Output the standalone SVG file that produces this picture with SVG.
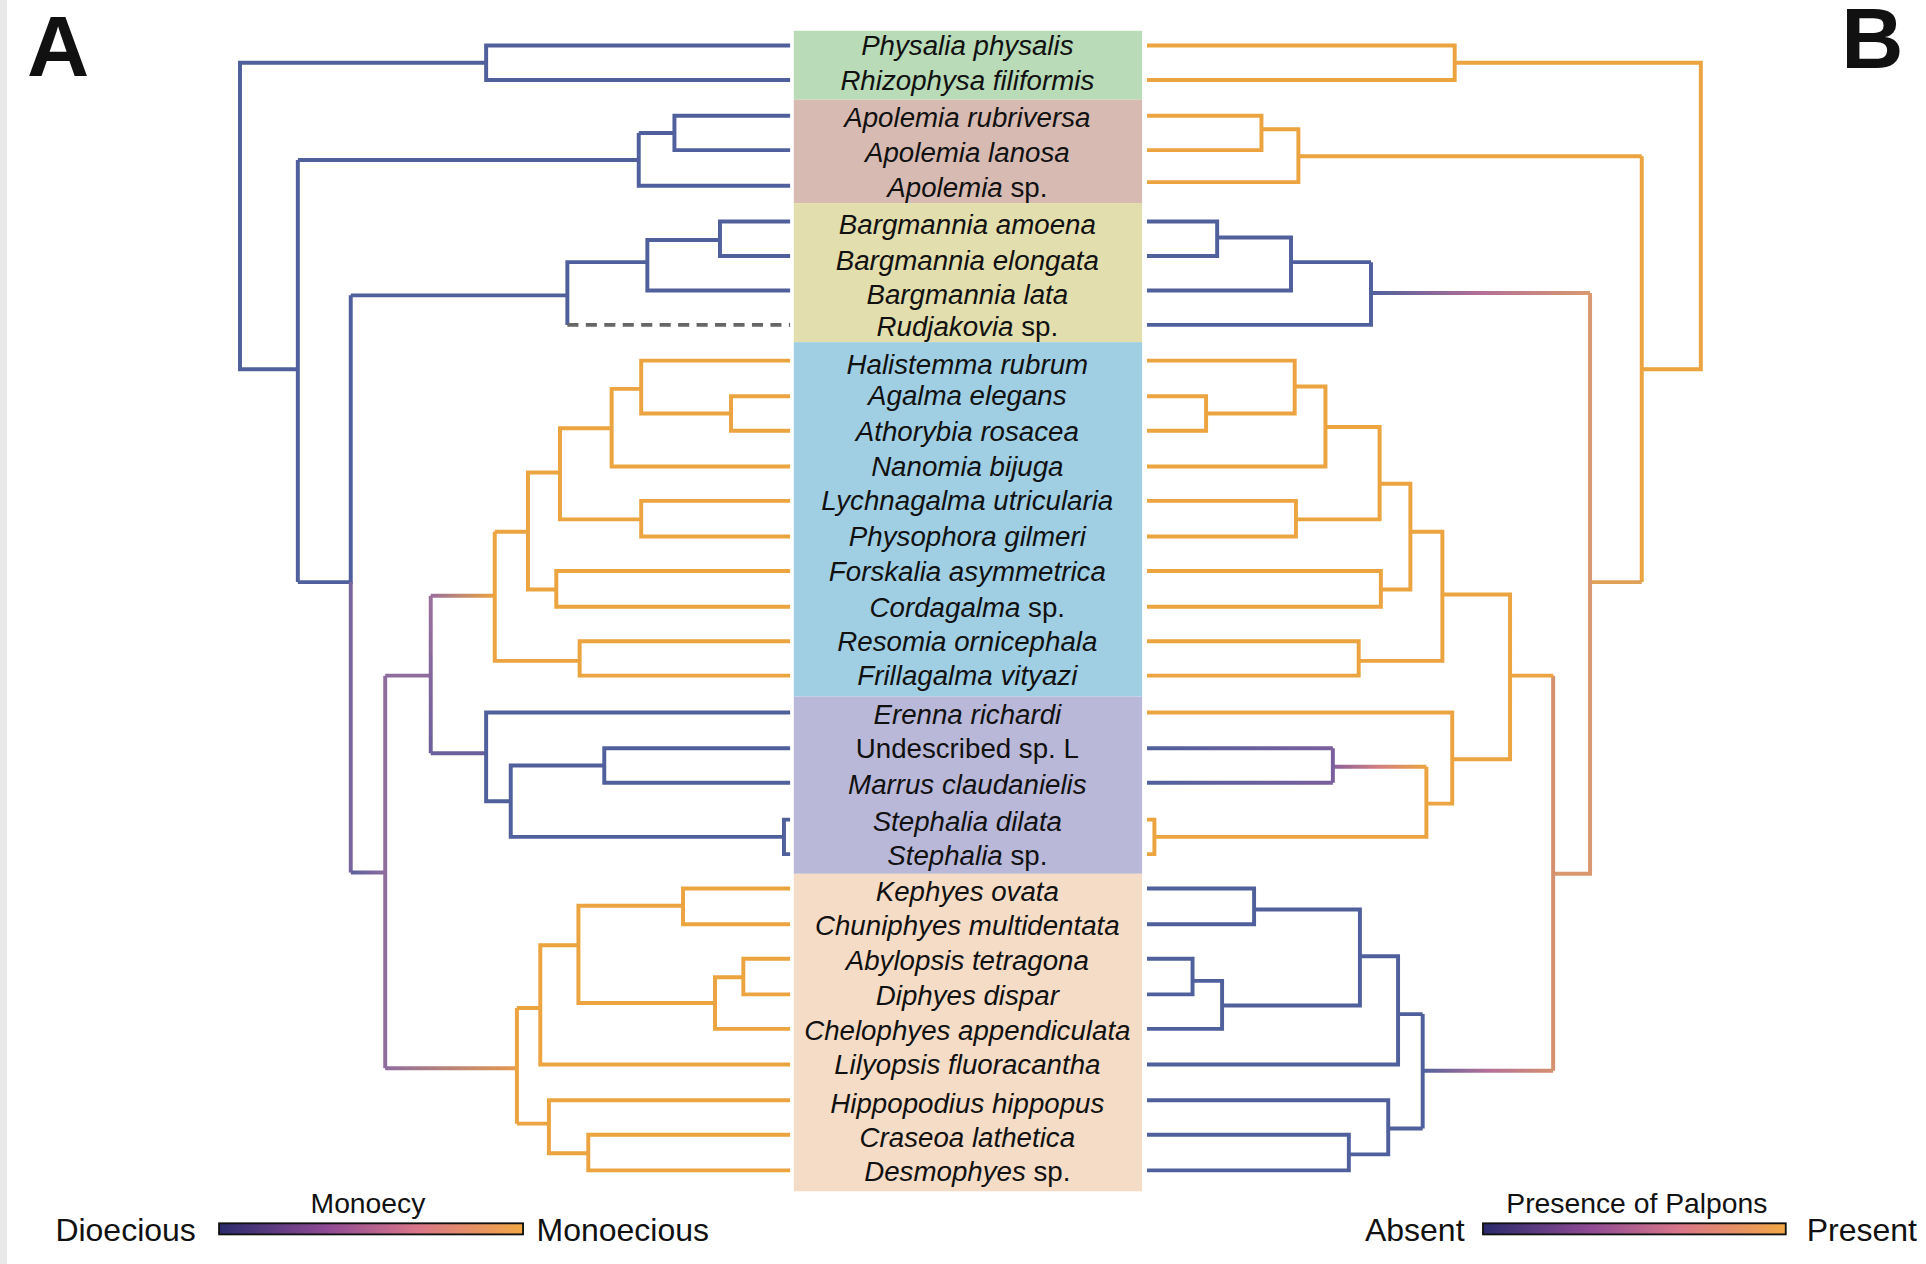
<svg xmlns="http://www.w3.org/2000/svg" width="1926" height="1264" viewBox="0 0 1926 1264">
<defs>
<style>
.b{fill:none;stroke:#50609c;stroke-width:3.2}
.o{fill:none;stroke:#eba43f;stroke-width:3.2}
.g{fill:none;stroke-width:3.2}
.t{font-family:"Liberation Sans",Arial,sans-serif;font-size:22.5px;font-style:italic;fill:#111;text-anchor:middle}
.n{font-style:normal}
.lg{font-family:"Liberation Sans",Arial,sans-serif;fill:#111}
</style>
<linearGradient id="pal" x1="0" x2="1" y1="0" y2="0">
<stop offset="0" stop-color="#2a2a6c"/><stop offset="0.35" stop-color="#8e4a94"/><stop offset="0.65" stop-color="#d9768a"/><stop offset="1" stop-color="#f2a845"/>
</linearGradient>
<linearGradient id="gh1" gradientUnits="userSpaceOnUse" x1="350" y1="0" x2="402" y2="0"><stop offset="0" stop-color="#9a6f9c"/><stop offset="1" stop-color="#eba43f"/></linearGradient>
<linearGradient id="gv1" gradientUnits="userSpaceOnUse" x1="0" y1="484" x2="0" y2="612"><stop offset="0" stop-color="#9c709c"/><stop offset="1" stop-color="#6b5f9e"/></linearGradient>
<linearGradient id="gh2" gradientUnits="userSpaceOnUse" x1="313" y1="0" x2="420" y2="0"><stop offset="0" stop-color="#8e6d9e"/><stop offset="1" stop-color="#e59a50"/></linearGradient>
<linearGradient id="gh3" gradientUnits="userSpaceOnUse" x1="285" y1="0" x2="313" y2="0"><stop offset="0" stop-color="#5a619c"/><stop offset="1" stop-color="#8e6d9e"/></linearGradient>
<linearGradient id="gh4" gradientUnits="userSpaceOnUse" x1="1114" y1="0" x2="1292" y2="0"><stop offset="0" stop-color="#50609c"/><stop offset="0.5" stop-color="#b46f97"/><stop offset="1" stop-color="#d99a70"/></linearGradient>
<linearGradient id="gh5" gradientUnits="userSpaceOnUse" x1="1156" y1="0" x2="1262" y2="0"><stop offset="0" stop-color="#50609c"/><stop offset="0.5" stop-color="#b46f97"/><stop offset="1" stop-color="#d4906f"/></linearGradient>
<linearGradient id="gh6" gradientUnits="userSpaceOnUse" x1="1083" y1="0" x2="1159" y2="0"><stop offset="0" stop-color="#8a5f9a"/><stop offset="0.5" stop-color="#d38080"/><stop offset="1" stop-color="#eba43f"/></linearGradient>
<linearGradient id="gh7" gradientUnits="userSpaceOnUse" x1="932" y1="0" x2="1083" y2="0"><stop offset="0" stop-color="#50609c"/><stop offset="1" stop-color="#7a5f9c"/></linearGradient>
</defs>
<rect width="1926" height="1264" fill="#fff"/>
<rect width="7" height="1264" fill="#e9e9e9"/>
<g transform="scale(1.2307)">
<g id="boxes">
<rect x="645" y="25" width="283" height="56" fill="#b9dbb8"/>
<rect x="645" y="81" width="283" height="84" fill="#d7bbb3"/>
<rect x="645" y="165" width="283" height="113" fill="#e2dead"/>
<rect x="645" y="278" width="283" height="288" fill="#a0cfe4"/>
<rect x="645" y="566" width="283" height="144" fill="#bab8d8"/>
<rect x="645" y="710" width="283" height="258" fill="#f5dcc6"/>
</g>
<g id="labels">
<text class="t" x="786" y="45">Physalia physalis</text>
<text class="t" x="786" y="73">Rhizophysa filiformis</text>
<text class="t" x="786" y="103">Apolemia rubriversa</text>
<text class="t" x="786" y="132">Apolemia lanosa</text>
<text class="t" x="786" y="160">Apolemia<tspan class="n"> sp.</tspan></text>
<text class="t" x="786" y="190">Bargmannia amoena</text>
<text class="t" x="786" y="219">Bargmannia elongata</text>
<text class="t" x="786" y="247">Bargmannia lata</text>
<text class="t" x="786" y="273">Rudjakovia<tspan class="n"> sp.</tspan></text>
<text class="t" x="786" y="304">Halistemma rubrum</text>
<text class="t" x="786" y="329">Agalma elegans</text>
<text class="t" x="786" y="358">Athorybia rosacea</text>
<text class="t" x="786" y="387">Nanomia bijuga</text>
<text class="t" x="786" y="414">Lychnagalma utricularia</text>
<text class="t" x="786" y="444">Physophora gilmeri</text>
<text class="t" x="786" y="472">Forskalia asymmetrica</text>
<text class="t" x="786" y="501">Cordagalma<tspan class="n"> sp.</tspan></text>
<text class="t" x="786" y="529">Resomia ornicephala</text>
<text class="t" x="786" y="557">Frillagalma vityazi</text>
<text class="t" x="786" y="588">Erenna richardi</text>
<text class="t n" x="786" y="616">Undescribed sp. L</text>
<text class="t" x="786" y="645">Marrus claudanielis</text>
<text class="t" x="786" y="675">Stephalia dilata</text>
<text class="t" x="786" y="703">Stephalia<tspan class="n"> sp.</tspan></text>
<text class="t" x="786" y="732">Kephyes ovata</text>
<text class="t" x="786" y="760">Chuniphyes multidentata</text>
<text class="t" x="786" y="788">Abylopsis tetragona</text>
<text class="t" x="786" y="817">Diphyes dispar</text>
<text class="t" x="786" y="845">Chelophyes appendiculata</text>
<text class="t" x="786" y="873">Lilyopsis fluoracantha</text>
<text class="t" x="786" y="904">Hippopodius hippopus</text>
<text class="t" x="786" y="932">Craseoa lathetica</text>
<text class="t" x="786" y="960">Desmophyes<tspan class="n"> sp.</tspan></text>
</g>
<g id="connectors">
<path class="b" d="M642 37H395V65H642M395 51H195V300H242M242 130V473M242 130H519M519 108V151H642M519 108H548V94H642M548 108V122H642M242 473H285V240M285 240H461V213H526V195H585V180H642M585 195V208H642M526 213V236H642M461 240V264"/>
<path d="M461 264H642" fill="none" stroke="#666" stroke-width="3.2" stroke-dasharray="9,6"/>
<path class="g" stroke="#7a669e" d="M285 473V709"/>
<path class="g" stroke="url(#gh3)" d="M285 709H313"/>
<path class="g" stroke="#8e6d9e" d="M313 549V868"/>
<path class="g" stroke="#8e6d9e" d="M313 549H350"/>
<path class="g" stroke="url(#gv1)" d="M350 484V612"/>
<path class="g" stroke="url(#gh1)" d="M350 484H402"/>
<path class="g" stroke="#6b5f9e" d="M350 612H395"/>
<path class="o" d="M402 432V537H471V521H642M471 537V549H642M402 432H429V384H455V348H497V316H521V293H642M521 316V336H594V322H642M594 336V350H642M497 348V379H642M455 384V422H521V407H642M521 422V436H642M429 432V479H452V464H642M452 479V493H642"/>
<path class="b" d="M395 612V579H642M395 612V651H415V622H491V608H642M491 622V636H642M415 651V680H637V666H642M637 680V694H642"/>
<path class="g" stroke="url(#gh2)" d="M313 868H420"/>
<path class="o" d="M420 819V913M420 819H439V768H470V736H555V722H642M555 736V751H642M470 768V815H581V794H604V779H642M604 794V808H642M581 815V836H642M439 819V865H642M420 913H446V894H642M446 913V937H478V922H642M478 937V951H642"/>
<path class="o" d="M932 37H1182V65H932M1182 51H1382V300H1334M1334 127V473M1334 127H1055V105H1025V94H932M1025 105V122H932M1055 127V148H932"/>
<path class="g" stroke="#e0a058" d="M1334 473H1292"/>
<path class="g" stroke="#d9986f" d="M1292 238V710H1262"/>
<path class="g" stroke="url(#gh4)" d="M1292 238H1114"/>
<path class="b" d="M1114 213V264H932M1114 213H1049V193H989V180H932M989 193V208H932M1049 213V236H932"/>
<path class="g" stroke="#d4906f" d="M1262 549V870"/>
<path class="g" stroke="url(#gh5)" d="M1262 870H1156"/>
<path class="o" d="M1262 549H1227V483H1172V432H1146V393H1121V347H1077V314H1052V293H932M1052 314V336H980V322H932M980 336V350H932M1077 347V379H932M1121 393V422H1053V407H932M1053 422V436H932M1146 432V479H1122V464H932M1122 479V493H932M1172 483V537H1104V521H932M1104 537V549H932M1227 549V617H1180V579H932M1180 617V653H1159V623M1159 653V680H938V666H932M938 680V694H932"/>
<path class="g" stroke="url(#gh6)" d="M1159 623H1083"/>
<path class="g" stroke="#7a5f9c" d="M1083 608V636"/>
<path class="g" stroke="url(#gh7)" d="M932 608H1083M932 636H1083"/>
<path class="b" d="M1156 824V917M1156 824H1136V777H1105V739H1019V722H932M1019 739V751H932M1105 777V817H993V797H969V779H932M969 797V808H932M993 817V836H932M1136 824V865H932M1156 917H1128V894H932M1128 917V938H1096V922H932M1096 938V951H932"/>
</g>
<g id="legend">
<text class="lg" x="22" y="62" font-size="70" font-weight="bold">A</text>
<text class="lg" x="1496" y="55" font-size="70" font-weight="bold">B</text>
<text class="lg" x="45" y="1008" font-size="26">Dioecious</text>
<text class="lg" x="299" y="986" font-size="23" text-anchor="middle">Monoecy</text>
<rect x="178" y="994" width="247" height="9" fill="url(#pal)" stroke="#111" stroke-width="1.5"/>
<text class="lg" x="436" y="1008" font-size="26">Monoecious</text>
<text class="lg" x="1190" y="1008" font-size="26" text-anchor="end">Absent</text>
<text class="lg" x="1330" y="986" font-size="23" text-anchor="middle">Presence of Palpons</text>
<rect x="1205" y="994" width="246" height="9" fill="url(#pal)" stroke="#111" stroke-width="1.5"/>
<text class="lg" x="1468" y="1008" font-size="26">Present</text>
</g>
</g>
</svg>
